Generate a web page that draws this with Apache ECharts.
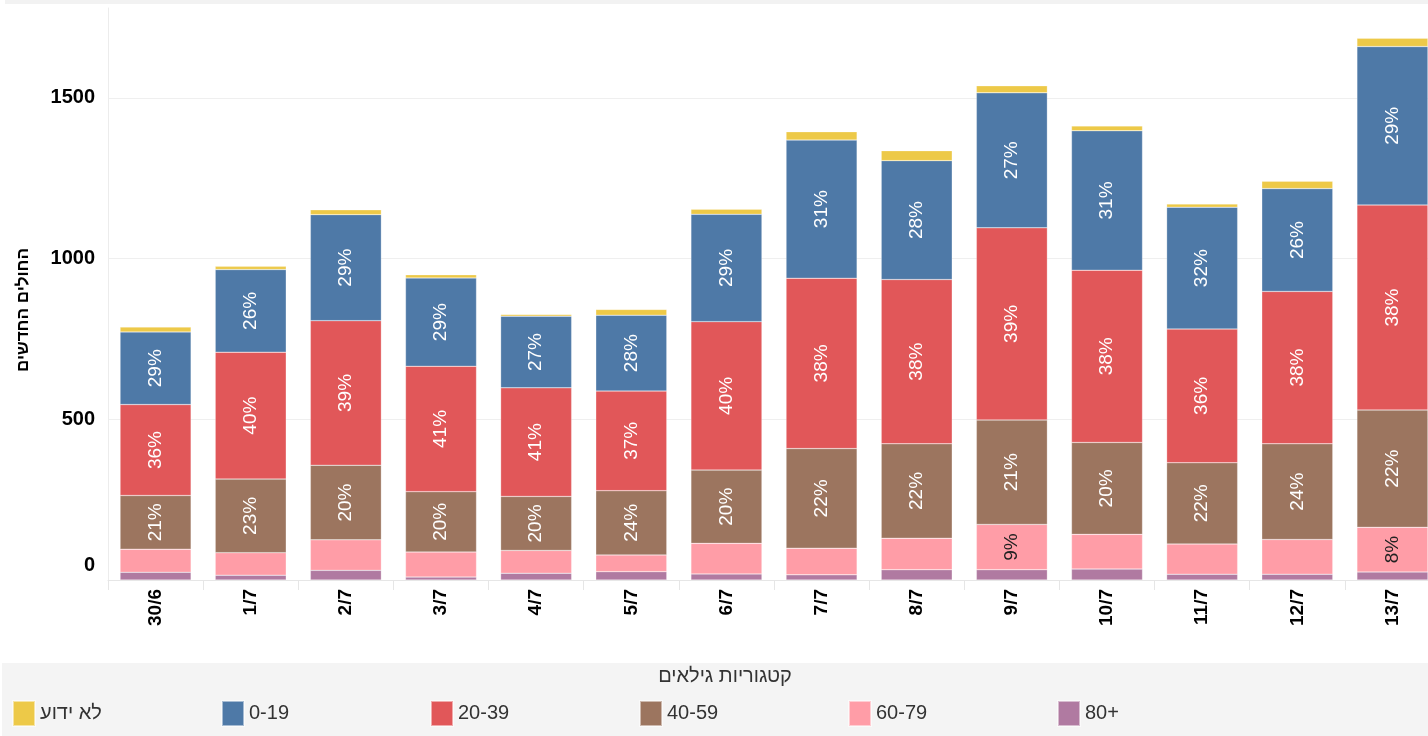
<!DOCTYPE html>
<html>
<head>
<meta charset="utf-8">
<script src="https://cdn.jsdelivr.net/npm/echarts@6/dist/echarts.min.js"></script>
<style>
html,body{margin:0;padding:0;background:#fff;overflow:hidden;}
#c{width:1440px;height:736px;}
</style>
</head>
<body>
<div id="c"></div>
<script>
const categories = ['30/6','1/7','2/7','3/7','4/7','5/7','6/7','7/7','8/7','9/7','10/7','11/7','12/7','13/7'];
const age80plus = [24, 15, 30, 9, 21, 26, 19, 16, 32, 32, 34, 18, 18, 25];
const age60_79  = [72, 70, 95, 78, 71, 52, 95, 83, 98, 141, 108, 94, 108, 139];
const age40_59  = [167, 229, 232, 188, 168, 200, 228, 310, 294, 325, 286, 253, 298, 365];
const age20_39  = [283, 395, 450, 390, 338, 310, 462, 530, 511, 598, 536, 416, 474, 638];
const age0_19   = [226, 257, 330, 275, 223, 236, 334, 430, 370, 420, 434, 379, 320, 493];
const ageUnknown= [15, 10, 15, 10, 5, 18, 16, 26, 31, 22, 15, 10, 23, 26];
const yTicks = [0, 500, 1000, 1500];

const seriesNames = ['80+', '60-79', '40-59', '20-39', '0-19', 'לא ידוע'];
const legendOrder = ['לא ידוע', '0-19', '20-39', '40-59', '60-79', '80+'];
const colors = {
  '80+': '#b07aa1', '60-79': '#ff9da7', '40-59': '#9c755f',
  '20-39': '#e15759', '0-19': '#4e79a7', 'לא ידוע': '#edc948'
};
const seriesData = [age80plus, age60_79, age40_59, age20_39, age0_19, ageUnknown];
const totals = categories.map((_, i) => seriesData.reduce((s, arr) => s + arr[i], 0));

const FONT = "'Liberation Sans', Arial, sans-serif";
const NARROW = "'Liberation Sans Narrow', 'Liberation Sans', Arial, sans-serif";

const chart = echarts.init(document.getElementById('c'), null, {renderer: 'canvas'});

const series = seriesNames.map((name, k) => ({
  name: name,
  type: 'bar',
  stack: 'total',
  barWidth: 71,
  data: seriesData[k],
  itemStyle: { color: colors[name], borderColor: 'rgba(255,255,255,0.5)', borderWidth: 0.5 },
  label: {
    show: true,
    position: 'inside',
    rotate: 90,
    fontFamily: FONT,
    fontSize: 19,
    color: name === '60-79' ? '#222' : '#fff',
    formatter: p => p.value >= 120 ? Math.round(p.value / totals[p.dataIndex] * 100) + '%' : ''
  },
  emphasis: { disabled: true },
  animation: false
}));

const legends = legendOrder.map((name, i) => ({
  data: [name],
  left: 7 + i * 209,
  top: 695,
  itemWidth: 22,
  itemHeight: 25,
  itemGap: 0,
  itemTextGap: 8,
  icon: 'rect',
  selectedMode: false,
  textStyle: { fontFamily: NARROW, fontSize: 20, color: '#333' }
}));

chart.setOption({
  animation: false,
  backgroundColor: '#fff',
  title: {
    text: 'קטגוריות גילאים',
    left: 720,
    textAlign: 'center',
    top: 661,
    textStyle: { fontFamily: NARROW, fontSize: 20, fontWeight: 'normal', color: '#333' }
  },
  graphic: [
    { type: 'rect', z: -10, shape: { x: 5, y: 0, width: 1435, height: 4 }, style: { fill: '#f2f2f2' } },
    { type: 'rect', z: -10, shape: { x: 2, y: 663, width: 1438, height: 73 }, style: { fill: '#f4f4f4' } }
  ],
  legend: legends,
  grid: { left: 108, top: 8, right: 0, bottom: 156, containLabel: false },
  xAxis: {
    type: 'category',
    data: categories,
    boundaryGap: true,
    axisLine: { show: true, lineStyle: { color: '#e6e6e6', width: 1 } },
    axisTick: { show: true, length: 10, lineStyle: { color: '#e6e6e6' } },
    axisLabel: {
      rotate: 90, margin: 9, interval: 0,
      fontFamily: FONT, fontSize: 19, fontWeight: 'bold', color: '#000'
    }
  },
  yAxis: {
    type: 'value',
    min: 0,
    max: 1780,
    interval: 500,
    name: 'החולים החדשים',
    nameLocation: 'middle',
    nameRotate: 90,
    nameGap: 76,
    nameTextStyle: { fontFamily: FONT, fontSize: 17, fontWeight: 'bold', color: '#000', padding: [0, 32, 0, 0] },
    axisLine: { show: true, lineStyle: { color: '#ececec' } },
    axisTick: { show: false },
    splitLine: { show: true, showMaxLine: false, lineStyle: { color: '#efefef' } },
    axisLabel: {
      showMaxLabel: false,
      margin: 13,
      fontFamily: FONT, fontSize: 20, fontWeight: 'bold', color: '#000',
      formatter: v => yTicks.indexOf(v) < 0 ? '' : (v === 0 ? '{z|0}' : String(v)),
      rich: { z: { fontFamily: FONT, fontSize: 20, fontWeight: 'bold', color: '#000', padding: [0, 0, 30, 0] } }
    }
  },
  series: series
});
</script>
</body>
</html>
